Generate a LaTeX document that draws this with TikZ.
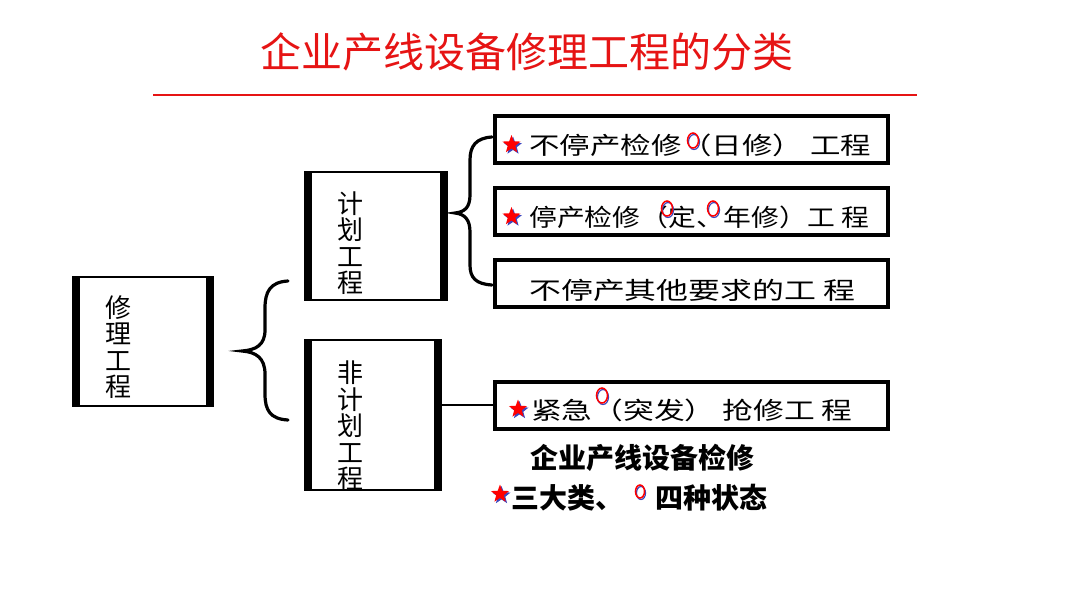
\documentclass[tikz,border=0pt]{standalone}
\usepackage{fontspec}
\usepackage{graphicx}
\usetikzlibrary{shapes.geometric}
\newfontfamily\cjk{Noto Sans CJK SC}
\newfontfamily\cjkw[FakeStretch=1.22]{Noto Sans CJK SC}
\definecolor{titlered}{RGB}{230,20,20}
\definecolor{shadowblue}{RGB}{60,70,190}
\tikzset{
  sidebox/.style={draw, line width=2pt, inner sep=0pt, fill=white,
    path picture={
      \fill[black] ([xshift=-1pt]path picture bounding box.north west) rectangle ([xshift=7pt]path picture bounding box.south west);
      \fill[black] ([xshift=1pt]path picture bounding box.north east) rectangle ([xshift=-7pt]path picture bounding box.south east);
    }},
  rbox/.style={draw, line width=4pt, inner sep=0pt, minimum width=393pt, minimum height=47pt},
  vtext/.style={font=\cjk\fontsize{26}{26.5}\selectfont, align=center, inner sep=0pt},
  htext/.style={font=\cjkw\fontsize{24}{24}\selectfont, anchor=west, inner sep=0pt},
  redstar/.style={star, star points=5, star point ratio=2.4, minimum size=19pt, inner sep=0pt, fill=red, draw=none},
  starshadow/.style={star, star points=5, star point ratio=2.4, minimum size=19pt, inner sep=0pt, fill=shadowblue, draw=none},
  ring/.style={draw=red, line width=1.5pt},
  ringshadow/.style={draw=shadowblue, line width=1.2pt},
  brace/.style={line width=3.2pt, line cap=round},
  boldtext/.style={font=\cjk\bfseries\fontsize{28}{28}\selectfont, inner sep=0pt},
}
\begin{document}
\begin{tikzpicture}[x=1pt,y=-1pt]
\useasboundingbox (0,0) rectangle (1080,608);
\fill[white] (0,0) rectangle (1080,608);
% title
\node[font=\cjk\fontsize{41}{41}\selectfont, text=titlered] (title) at (527,52) {企业产线设备修理工程的分类};
\coordinate (rl) at (153,95);
\coordinate (rr) at (917,95);
\draw[titlered, line width=2pt] (rl) -- (rr);

% left boxes
\node[sidebox, minimum width=140pt, minimum height=129pt] (xiu) at (143,341.5) {};
\node[vtext] (xiut) at (118,347) {修\\理\\工\\程};
\node[sidebox, minimum width=142pt, minimum height=128pt] (plan) at (376,236) {};
\node[vtext] (plant) at (350,243) {计\\划\\工\\程};
\node[sidebox, minimum width=136pt, minimum height=150pt] (nplan) at (373,415) {};
\node[vtext] (nplant) at (350,426) {非\\计\\划\\工\\程};

% brace 1
\draw[brace] (288,281) .. controls (270,282) and (265,292) .. (265,308) -- (265,330)
  .. controls (265,345) and (256,350) .. (242,351)
  .. controls (256,352) and (265,358) .. (265,374) -- (265,394)
  .. controls (265,410) and (270,419) .. (288,420);
% brace 2
\draw[brace] (492,137) .. controls (476,138) and (470,146) .. (470,160) -- (470,195)
  .. controls (470,207) and (465,212) .. (455,213)
  .. controls (465,214) and (470,220) .. (470,232) -- (470,265)
  .. controls (470,278) and (476,284) .. (492,285);

% right boxes
\node[rbox] (b1) at (691.5,139.5) {};
\node[rbox] (b2) at (691.5,211.5) {};
\node[rbox] (b3) at (691.5,283.5) {};
\node[rbox] (b4) at (691.5,405) {};
\draw[line width=2pt] (b4.west) -- (b4.west -| nplan.east);

% box 1
\node[starshadow] at (513,146) {};
\node[redstar] (s1) at (511.5,144.5) {};
\node[htext] (t1) at (529,145) {\scalebox{1.04}[1]{不停产检修（日修） 工程}};
\draw[ringshadow] (694,142) ellipse (5.5 and 7.5);
\draw[ring] (693,140.5) ellipse (5.5 and 7.5);
% box 2
\node[starshadow] at (513,218) {};
\node[redstar] (s2) at (511.5,216.5) {};
\node[htext] (t2) at (529,217) {\scalebox{0.95}[1]{停产检修（定、年修）工 程}};
\draw[ringshadow] (668,210) ellipse (5.5 and 7.5);
\draw[ring] (667,208.5) ellipse (5.5 and 7.5);
\draw[ringshadow] (714,210) ellipse (5.5 and 7.5);
\draw[ring] (713,208.5) ellipse (5.5 and 7.5);
% box 3
\node[htext] (t3) at (529,290) {\scalebox{1.09}[1]{不停产其他要求的工 程}};
% box 4
\node[starshadow] at (519.5,410.5) {};
\node[redstar] (s4) at (518,409) {};
\node[htext] (t4) at (531,410) {\scalebox{1.05}[1]{紧急（突发） 抢修工 程}};
\draw[ringshadow] (603,397) ellipse (5.5 and 7.5);
\draw[ring] (602,395.5) ellipse (5.5 and 7.5);

% bottom note
\node[boldtext] (n1) at (642,458) {企业产线设备检修};
\node[starshadow] at (501.5,495.5) {};
\node[redstar] (s5) at (500,494) {};
\node[boldtext, anchor=west] (n2) at (511,498) {三大类、};
\draw[ringshadow] (641,493) ellipse (4.5 and 6.5);
\draw[ring] (640,491.5) ellipse (4.5 and 6.5);
\node[boldtext, anchor=west] (n3) at (655,498) {四种状态};
\end{tikzpicture}
\end{document}
